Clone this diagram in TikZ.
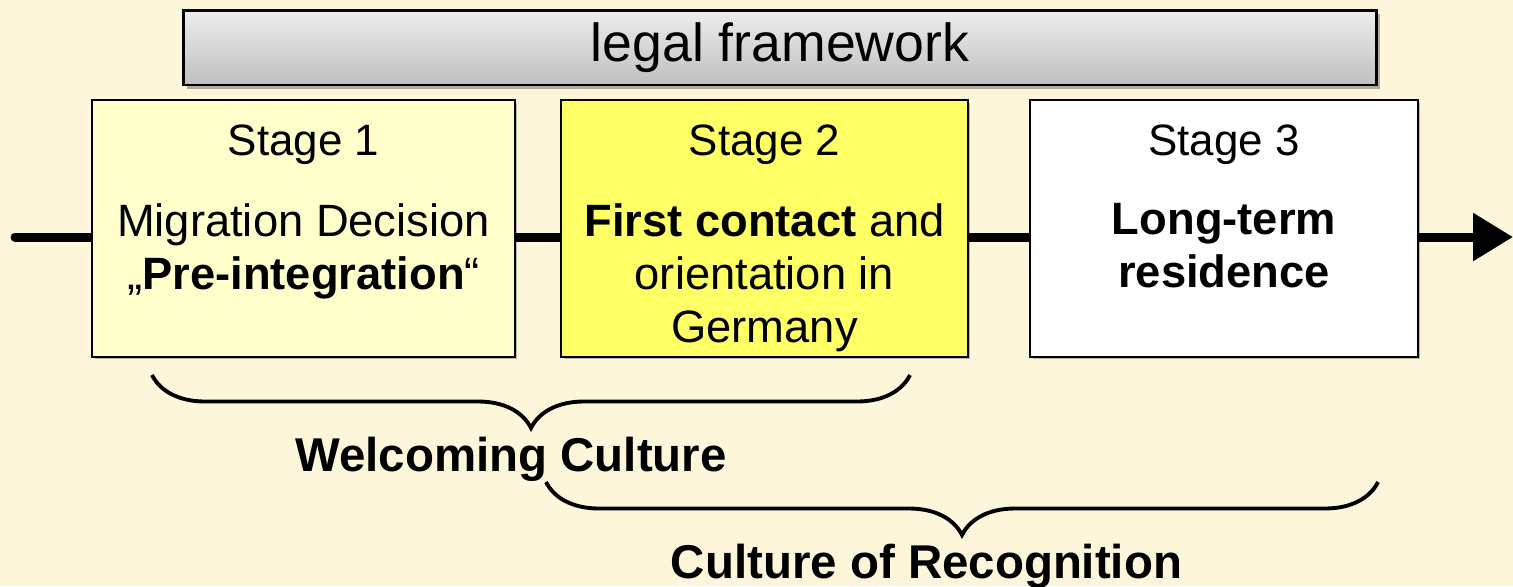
\documentclass[tikz,border=0pt]{standalone}
\usepackage{fontspec}
\setmainfont{Liberation Sans}
\usetikzlibrary{positioning,arrows.meta,shadows,decorations.pathreplacing}

\definecolor{bgcream}{RGB}{254,246,218}
\definecolor{paleyellow}{RGB}{255,255,204}
\definecolor{brightyellow}{RGB}{255,255,102}

\begin{document}
\begin{tikzpicture}
[
	x=0.02cm,y=-0.02cm,
	stagebox/.style={rectangle,draw,line width=1pt,minimum height=5.14cm,inner sep=0pt,
		drop shadow={shadow xshift=0.05cm,shadow yshift=-0.05cm,opacity=0.25,fill=black}},
	legalbar/.style={rectangle,draw,line width=1.7pt,top color=black!7,bottom color=black!25,
		minimum width=23.88cm,minimum height=1.5cm,font=\fontsize{30.5}{36}\selectfont,
		drop shadow={shadow xshift=0.07cm,shadow yshift=-0.07cm,opacity=0.3,fill=black}},
	stagetitle/.style={anchor=base,inner sep=0pt,font=\fontsize{25}{30}\selectfont},
	stagetext/.style={anchor=north,inner sep=0pt,align=center,font=\fontsize{25.8}{30.2}\selectfont},
	culture/.style={decorate,decoration={brace,mirror,amplitude=1.06cm},line width=2.2pt},
	culturelbl/.style={anchor=base,inner sep=0pt,font=\fontsize{27}{32}\selectfont\bfseries}
]

	% background
	\useasboundingbox[fill=bgcream] (0,0) rectangle (1513,586);

	% time line
	\coordinate (lstart) at (15,237);
	\coordinate (lend) at (1513,237);
	\draw[line width=0.18cm,line cap=round,-{Triangle[length=0.8cm,width=0.92cm]}] (lstart) -- (lend);

	% legal framework
	\node[legalbar] (legal) at (780,47.5) {legal framework};

	% stages
	\node[stagebox,fill=paleyellow,minimum width=8.46cm] (s1) at (303.5,228.5) {};
	\node[stagebox,fill=brightyellow,minimum width=8.14cm] (s2) at (764.5,228.5) {};
	\node[stagebox,fill=white,minimum width=7.76cm] (s3) at (1224,228.5) {};

	\node[stagetitle] (h1) at (303.5,155) {Stage 1};
	\node[stagetitle] (h2) at (764.5,155) {Stage 2};
	\node[stagetitle] (h3) at (1224,155) {Stage 3};

	\node[stagetext] (b1) at (303.5,203) {Migration Decision\\„\textbf{Pre-integration}“};
	\node[stagetext] (b2) at (764.5,203) {\textbf{First contact} and\\orientation in\\Germany};
	\node[stagetext] (b3) at (1224,203) {\textbf{Long-term}\\\textbf{residence}};

	% braces
	\coordinate (wc-l) at (152,375);
	\coordinate (wc-r) at (910,375);
	\draw[culture] (wc-l) -- (wc-r);
	\node[culturelbl] (wc) at (511,471) {Welcoming Culture};

	\coordinate (cr-l) at (546,482);
	\coordinate (cr-r) at (1378,482);
	\draw[culture] (cr-l) -- (cr-r);
	\node[culturelbl] (cr) at (926.5,578) {Culture of Recognition};

\end{tikzpicture}
\end{document}
